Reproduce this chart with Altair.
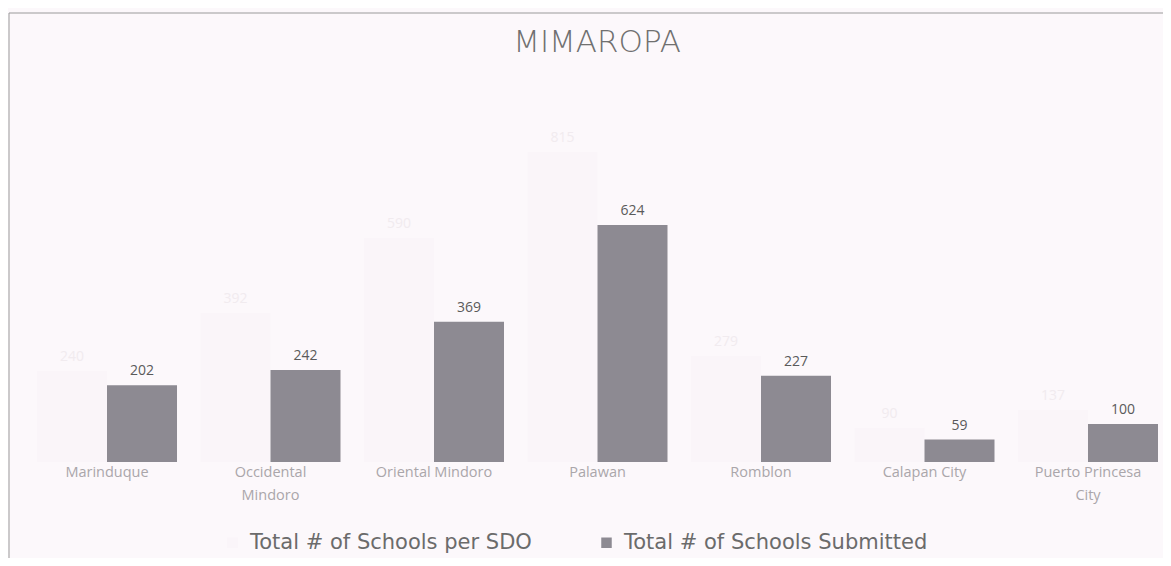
import altair as alt
import pandas as pd

categories = ["Marinduque", "Occidental Mindoro", "Oriental Mindoro", "Palawan",
              "Romblon", "Calapan City", "Puerto Princesa City"]
label_lines = [["Marinduque"], ["Occidental", "Mindoro"], ["Oriental Mindoro"], ["Palawan"],
               ["Romblon"], ["Calapan City"], ["Puerto Princesa", "City"]]
series_names = ["Total # of Schools per SDO", "Total # of Schools Submitted"]
per_sdo = [240, 392, 590, 815, 279, 90, 137]      # faint (barely visible) series
submitted = [202, 242, 369, 624, 227, 59, 100]

rows = []
for c, a, b in zip(categories, per_sdo, submitted):
    rows.append({"SDO": c, "series": series_names[0], "value": a})
    rows.append({"SDO": c, "series": series_names[1], "value": b})
df = pd.DataFrame(rows)

# multi-line axis labels
expr = "datum.value"
for c, lines in zip(categories, label_lines):
    if len(lines) > 1:
        arr = "[" + ", ".join("'" + s + "'" for s in lines) + "]"
        expr = f"datum.value == '{c}' ? {arr} : (" + expr + ")"

W, H = 1155, 454
BG = "#fcf8fb"
FONT = "Open Sans"

x_enc = alt.X("SDO:N", sort=categories,
              scale=alt.Scale(range=[17.25, 1161.75], paddingInner=0.1437, paddingOuter=0.0719),
              axis=alt.Axis(title=None, domain=False, ticks=False, labelAngle=0,
                            labelPadding=3, labelFontSize=14.5, labelColor="#aaa6aa",
                            labelFont=FONT, labelExpr=expr, labelLineHeight=23))
xoff = alt.XOffset("series:N", sort=series_names, scale=alt.Scale(paddingInner=0, paddingOuter=0))
y_enc = alt.Y("value:Q", scale=alt.Scale(domain=[0, 1195]), axis=None)

color = alt.Color("series:N", sort=series_names,
                  scale=alt.Scale(domain=series_names, range=["#faf5f9", "#8d8a92"]),
                  legend=alt.Legend(title=None, orient="none", legendX=214, legendY=524,
                                    direction="horizontal", columns=2, columnPadding=64,
                                    symbolType="square", symbolSize=110, symbolStrokeWidth=0,
                                    labelFontSize=21, labelColor="#6b6b6b", labelFont="DejaVu Sans",
                                    labelOffset=7, labelLimit=0))

base = alt.Chart(df)
bars = base.mark_bar().encode(x=x_enc, xOffset=xoff, y=y_enc, color=color)
labels = base.mark_text(baseline="bottom", dy=-7, fontSize=14, font=FONT).encode(
    x=x_enc, xOffset=xoff, y=y_enc, text="value:Q",
    color=alt.Color("series:N", sort=series_names,
                    scale=alt.Scale(domain=series_names, range=["#f1ebef", "#5a5a5a"]),
                    legend=None))

one = pd.DataFrame({"k": [0]})
frame_left = alt.Chart(one).mark_rule(color="#9a9a9a", strokeWidth=1).encode(
    x=alt.value(1), y=alt.value(5), y2=alt.value(550))
frame_top = alt.Chart(one).mark_rule(color="#9a9a9a", strokeWidth=1).encode(
    x=alt.value(1), x2=alt.value(W), y=alt.value(5))
title = alt.Chart(pd.DataFrame({"t": ["MIMAROPA"]})).mark_text(
    fontSize=31, font="DejaVu Sans", fontWeight=300, color="#707070",
    baseline="middle", align="center").encode(
    x=alt.value(589), y=alt.value(35), text="t:N")

chart = alt.layer(frame_left, frame_top, title, bars, labels).resolve_scale(color="independent").properties(
    width=W, height=H,
    autosize=alt.AutoSizeParams(type="none"),
    padding={"left": 0, "top": 0, "right": 0, "bottom": 96},
    background=BG,
).configure_view(stroke=None)

chart.save("out.html", embed_options={"renderer": "svg", "actions": False})
